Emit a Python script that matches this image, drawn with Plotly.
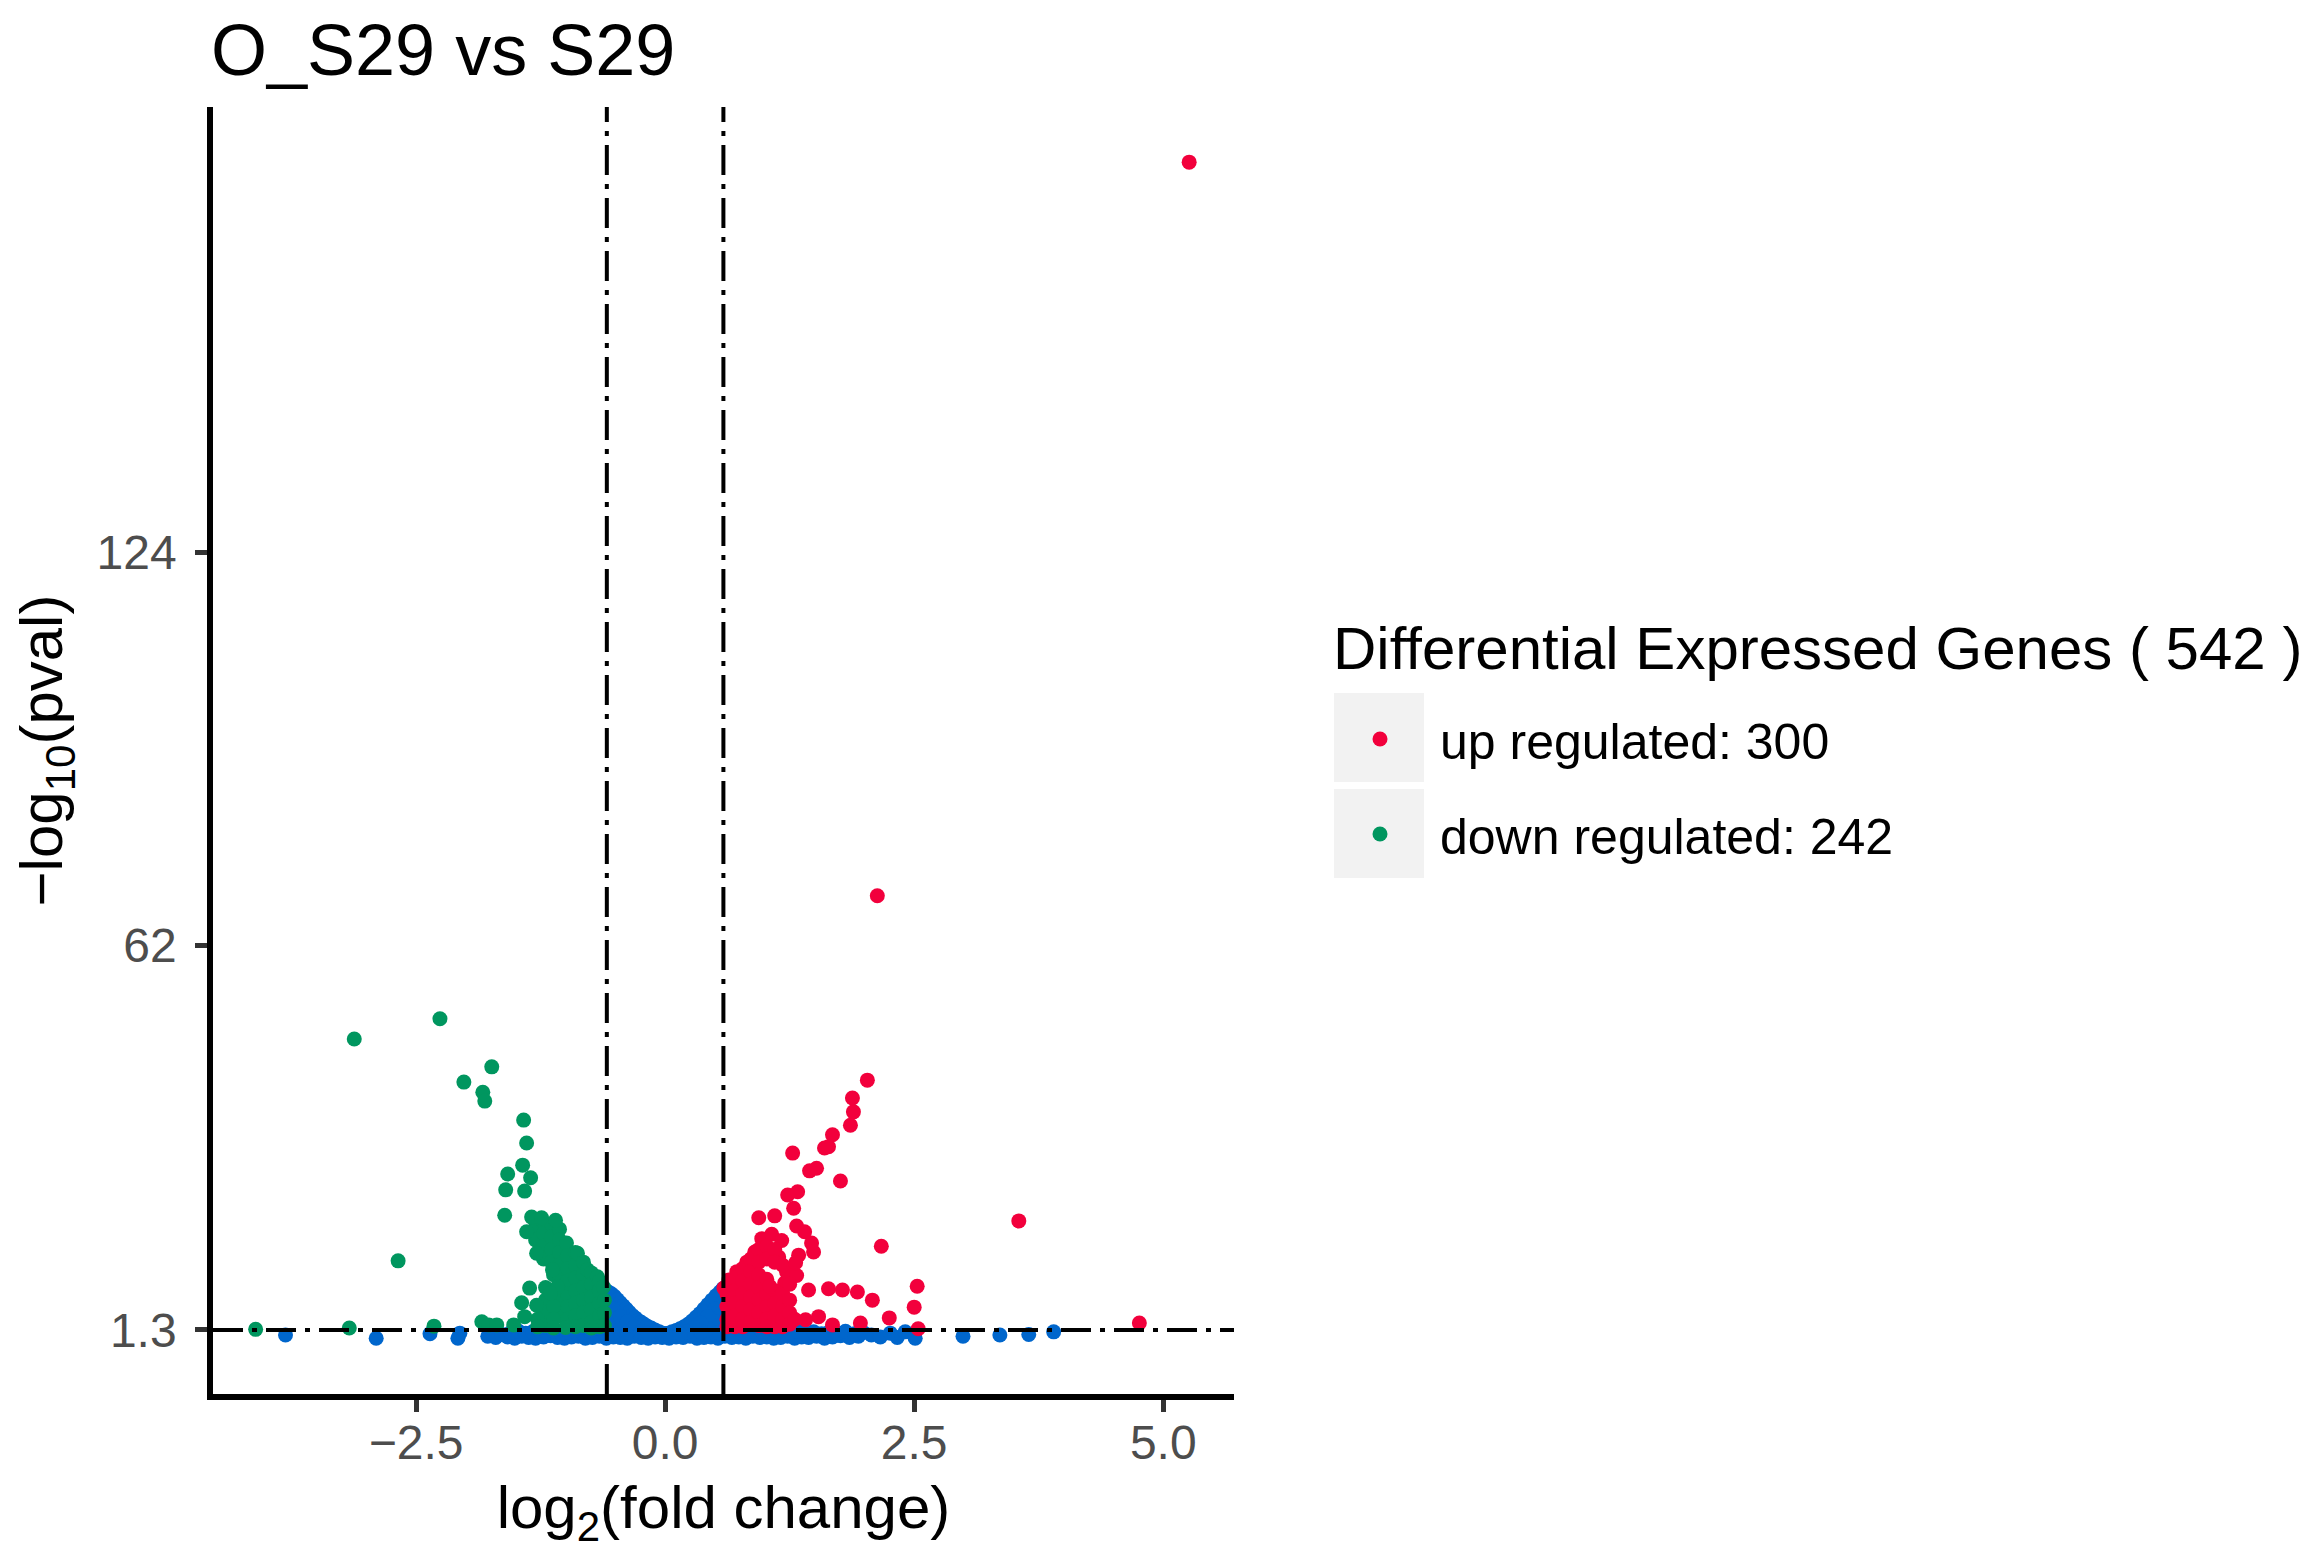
import plotly.graph_objects as go

# values: (log2 fold change, -log10 pval)

# not significant genes (blue)
blue_left_sparse = [(-3.81, 0.5), (-2.90, 0.0), (-2.36, 0.7), (-2.08, 0.0), (-2.06, 0.8),
                    (-1.78, 0.3), (-1.70, 0.1), (-1.64, 0.6)]
blue_band_low = [(-1.58, 0.2), (-1.51, 0.0), (-1.44, 0.3), (-1.37, 0.1), (-1.30, 0.0), (-1.22, 0.2),
                 (-1.15, 0.4), (-1.08, 0.1), (-1.01, 0.0), (-0.94, 0.2), (-0.87, 0.3), (-0.80, 0.0),
                 (-0.73, 0.1), (-0.66, 0.3), (-0.59, 0.0), (-0.52, 0.2), (-0.45, 0.1), (-0.38, 0.0),
                 (-0.31, 0.3), (-0.24, 0.1), (-0.17, 0.0), (-0.10, 0.2), (-0.03, 0.1), (0.04, 0.0),
                 (0.11, 0.2), (0.18, 0.1), (0.25, 0.3), (0.32, 0.0), (0.39, 0.1), (0.46, 0.2),
                 (0.53, 0.0), (0.60, 0.3), (0.67, 0.1), (0.74, 0.2), (0.81, 0.0), (0.88, 0.3),
                 (0.95, 0.1), (1.02, 0.2), (1.09, 0.0), (1.16, 0.1), (1.23, 0.3), (1.30, 0.0),
                 (1.37, 0.2), (1.44, 0.1), (1.52, 0.3), (1.60, 0.0), (1.68, 0.2), (1.76, 0.4),
                 (1.85, 0.1), (1.94, 0.3)]
blue_band_high = [(-1.55, 0.9), (-1.47, 1.1), (-1.40, 0.8), (-1.33, 1.0), (-1.26, 1.2), (-1.19, 0.9),
                  (-1.12, 1.1), (-1.04, 0.8), (-0.97, 1.0), (-0.90, 1.2), (-0.83, 0.9), (-0.76, 1.1),
                  (-0.69, 0.8), (-0.62, 1.0), (0.62, 1.1), (0.69, 0.8), (0.76, 1.0), (0.83, 1.2),
                  (0.90, 0.9), (0.97, 1.1), (1.04, 0.8), (1.11, 1.0), (1.18, 1.2), (1.25, 0.9),
                  (1.33, 1.1), (1.41, 0.8), (1.49, 1.0), (1.57, 0.7), (1.65, 1.0), (1.73, 0.8),
                  (1.81, 1.1), (1.90, 0.7), (1.99, 0.9)]
blue_v_left = [(-0.60, 7.6), (-0.57, 7.3), (-0.54, 7.0), (-0.51, 6.6), (-0.48, 6.1), (-0.45, 5.6),
               (-0.42, 5.1), (-0.39, 4.6), (-0.36, 4.1), (-0.33, 3.6), (-0.30, 3.2), (-0.27, 2.8),
               (-0.24, 2.5), (-0.21, 2.2), (-0.18, 1.9), (-0.14, 1.6), (-0.10, 1.3), (-0.06, 1.0),
               (-0.02, 0.8), (-0.59, 5.5), (-0.59, 3.5), (-0.59, 1.6), (-0.52, 4.6), (-0.52, 2.6),
               (-0.52, 0.9), (-0.45, 3.4), (-0.45, 1.5), (-0.38, 2.6), (-0.38, 1.0), (-0.31, 1.8),
               (-0.24, 1.0), (-0.17, 0.8)]
blue_v_right = [(0.03, 0.8), (0.07, 1.0), (0.11, 1.2), (0.15, 1.5), (0.19, 1.8), (0.23, 2.2),
                (0.27, 2.7), (0.31, 3.3), (0.35, 3.9), (0.39, 4.6), (0.43, 5.3), (0.47, 6.0),
                (0.51, 6.7), (0.55, 7.3), (0.58, 7.8), (0.57, 5.6), (0.57, 3.5), (0.57, 1.6),
                (0.50, 4.6), (0.50, 2.6), (0.50, 0.9), (0.43, 3.4), (0.43, 1.5), (0.36, 2.4),
                (0.36, 1.0), (0.29, 1.7), (0.22, 1.0), (0.15, 0.7)]
blue_right_sparse = [(2.07, 0.5), (2.16, 0.2), (2.26, 0.8), (2.33, 0.1), (2.41, 1.0), (2.51, 0.0),
                     (2.99, 0.3), (3.36, 0.5), (3.65, 0.6), (3.90, 1.0)]

# down regulated (green)
green_outliers = [(-4.11, 1.4), (-3.17, 1.6), (-2.32, 1.9), (-2.68, 12.2), (-3.12, 47.2),
                  (-2.26, 50.4), (-1.74, 42.8), (-2.02, 40.4), (-1.83, 38.8), (-1.81, 37.4),
                  (-1.42, 34.4), (-1.39, 30.8), (-1.43, 27.3), (-1.58, 25.9), (-1.35, 25.3),
                  (-1.60, 23.4), (-1.41, 23.2), (-1.61, 19.4), (-1.84, 2.6), (-1.77, 2.1),
                  (-1.69, 2.1), (-1.52, 2.1), (-1.41, 3.4), (-1.44, 5.6), (-1.29, 5.2),
                  (-1.36, 7.9), (-1.15, 7.1), (-1.39, 16.8), (-1.29, 13.4), (-1.34, 19.1),
                  (-1.24, 19.0), (-1.10, 18.6)]
green_cluster = [(-1.30, 17.5), (-1.30, 15.5), (-1.22, 18.3), (-1.22, 16.5), (-1.22, 14.5),
                 (-1.22, 12.5), (-1.14, 18.0), (-1.14, 16.0), (-1.14, 14.0), (-1.14, 12.0),
                 (-1.12, 10.0), (-1.06, 17.2), (-1.06, 15.5), (-1.06, 13.5), (-1.06, 11.5),
                 (-1.06, 9.5), (-1.06, 7.5), (-1.06, 5.5), (-1.06, 3.5), (-0.99, 15.0),
                 (-0.98, 13.0), (-0.98, 11.0), (-0.98, 9.0), (-0.98, 7.0), (-0.98, 5.0),
                 (-0.98, 3.0), (-0.90, 13.5), (-0.90, 11.5), (-0.90, 9.5), (-0.90, 7.5),
                 (-0.90, 5.5), (-0.90, 3.5), (-0.90, 1.8), (-0.88, 13.4), (-0.82, 12.0),
                 (-0.82, 10.0), (-0.82, 8.0), (-0.82, 6.0), (-0.82, 4.0), (-0.82, 2.0),
                 (-0.78, 10.8), (-0.74, 10.3), (-0.74, 8.5), (-0.74, 6.5), (-0.74, 4.5),
                 (-0.74, 2.5), (-0.68, 9.7), (-0.66, 9.0), (-0.66, 7.5), (-0.66, 5.5),
                 (-0.66, 3.5), (-0.66, 1.8), (-0.62, 8.1), (-0.61, 6.0), (-0.61, 4.0),
                 (-0.61, 2.0), (-1.20, 8.0), (-1.20, 6.0), (-1.20, 4.0), (-1.20, 2.0),
                 (-1.12, 7.0), (-1.12, 5.0), (-1.12, 3.0), (-1.12, 1.6), (-1.28, 3.0),
                 (-1.28, 1.8), (-1.13, 10.8), (-1.08, 8.1), (-1.00, 1.7), (-0.74, 1.6)]

# up regulated (red)
red_outliers = [(5.26, 185.5), (2.13, 69.8), (2.03, 40.7), (1.88, 37.9), (1.89, 35.7), (1.86, 33.6),
                (1.68, 32.1), (1.60, 30.0), (1.64, 30.2), (1.28, 29.2), (1.45, 26.4), (1.52, 26.8),
                (1.76, 24.8), (1.23, 22.6), (1.33, 23.1), (1.29, 20.5), (0.94, 19.0), (1.10, 19.3),
                (1.32, 17.7), (1.40, 16.8), (1.47, 15.0), (1.49, 13.6), (2.17, 14.5), (1.34, 13.1),
                (1.31, 11.9), (1.44, 7.6), (1.64, 7.8), (1.78, 7.6), (1.93, 7.3), (2.08, 6.0),
                (2.53, 8.2), (2.50, 4.9), (2.25, 3.2), (2.54, 1.5), (1.54, 3.4), (1.41, 2.9),
                (1.68, 2.1), (1.96, 2.4), (3.55, 18.5), (4.76, 2.4)]
red_cluster = [(1.22, 10.4), (1.32, 9.9), (1.20, 8.7), (0.97, 15.7), (1.07, 16.4), (1.17, 15.4),
               (1.14, 12.8), (0.90, 13.6), (0.82, 12.0), (0.72, 10.5), (0.64, 9.2), (0.59, 7.9),
               (0.62, 7.0), (0.62, 5.0), (0.62, 3.0), (0.62, 1.8), (0.70, 9.5), (0.70, 7.5),
               (0.70, 5.5), (0.70, 3.5), (0.70, 1.8), (0.78, 11.0), (0.78, 9.0), (0.78, 7.0),
               (0.78, 5.0), (0.78, 3.0), (0.78, 1.8), (0.86, 12.5), (0.86, 10.5), (0.86, 8.5),
               (0.86, 6.5), (0.86, 4.5), (0.86, 2.5), (0.94, 14.0), (0.94, 12.0), (0.94, 10.0),
               (0.94, 8.0), (0.94, 6.0), (0.94, 4.0), (0.94, 2.0), (1.02, 14.5), (1.02, 12.5),
               (1.02, 9.3), (1.02, 7.0), (1.02, 5.0), (1.02, 3.0), (1.02, 1.8), (1.10, 14.0),
               (1.10, 12.0), (1.10, 7.5), (1.10, 5.5), (1.10, 3.5), (1.10, 1.8), (1.18, 11.5),
               (1.18, 7.0), (1.18, 5.0), (1.18, 3.0), (1.18, 1.8), (1.25, 8.5), (1.25, 6.0),
               (1.25, 4.0), (1.25, 2.2), (1.05, 8.2), (1.30, 3.0)]

fc_cut = 0.585   # log2(1.5)
p_cut = 1.3      # -log10(0.05)

y_ticks = [1.3, 62, 124]
x_ticks = [-2.5, 0, 2.5, 5]
x_labels = ['\u22122.5', '0.0', '2.5', '5.0']

legend_title = 'Differential Expressed Genes ( 542 )'
red = '#F2003C'
green = '#00965F'
blue = '#0066CC'
font = 'Liberation Sans, Arial, sans-serif'
msize = 15


def unzip(*groups):
    pts = [p for g in groups for p in g]
    return [p[0] for p in pts], [p[1] for p in pts]


fig = go.Figure()

bx, by = unzip(blue_left_sparse, blue_band_low, blue_band_high, blue_v_left, blue_v_right,
               blue_right_sparse)
fig.add_trace(go.Scatter(x=bx, y=by, mode='markers', showlegend=False, name='not significant',
                         marker=dict(color=blue, size=msize, line=dict(width=0))))

rx, ry = unzip(red_cluster, red_outliers)
fig.add_trace(go.Scatter(x=rx, y=ry, mode='markers', name='up regulated: 300', legendgroup='up',
                         marker=dict(color=red, size=msize, line=dict(width=0))))

gx, gy = unzip(green_cluster, green_outliers)
fig.add_trace(go.Scatter(x=gx, y=gy, mode='markers', name='down regulated: 242', legendgroup='down',
                         marker=dict(color=green, size=msize, line=dict(width=0))))

dash = '30px,9px,5px,9px'
for v in (-fc_cut, fc_cut):
    fig.add_shape(type='line', x0=v, x1=v, y0=0, y1=1, xref='x', yref='paper',
                  line=dict(color='black', width=4, dash=dash))
fig.add_shape(type='line', x0=0, x1=1, y0=p_cut, y1=p_cut, xref='paper', yref='y',
              line=dict(color='black', width=4, dash=dash))

# grey key backgrounds like ggplot's legend keys (page px -> paper)
plot_left, plot_right, plot_top, plot_bottom = 205, 1226, 99, 1386
key_x = (1326, 1416)
key_y = ((685, 774), (781, 870))


def px_to_paper_x(v):
    return (v - plot_left) / (plot_right - plot_left)


def px_to_paper_y(v):
    return (plot_bottom - v) / (plot_bottom - plot_top)


for top, bottom in key_y:
    fig.add_shape(type='rect', xref='paper', yref='paper',
                  x0=px_to_paper_x(key_x[0]), x1=px_to_paper_x(key_x[1]),
                  y0=px_to_paper_y(bottom), y1=px_to_paper_y(top),
                  fillcolor='#F2F2F2', line=dict(width=0), layer='below')

# legend title sits further above the keys than plotly's own legend title would
fig.add_annotation(text=legend_title, xref='paper', yref='paper', x=px_to_paper_x(1323),
                   y=px_to_paper_y(640), xanchor='left', yanchor='middle', showarrow=False,
                   font=dict(size=60, color='black', family=font))

axis_common = dict(showline=True, linecolor='black', linewidth=5.5, ticks='outside', ticklen=12,
                   tickwidth=5, tickcolor='#333333', showgrid=False, zeroline=False,
                   tickfont=dict(size=48, color='#4D4D4D', family=font))

# the page body adds an 8px margin, so the figure is 8px smaller than the window
fig.update_layout(
    width=2314, height=1551,
    paper_bgcolor='white', plot_bgcolor='white',
    font=dict(family=font, color='black'),
    margin=dict(l=plot_left, r=2314 - plot_right, t=plot_top, b=1551 - plot_bottom),
    title=dict(text='O_S29 vs S29', font=dict(size=72, color='black'), xref='container',
               yref='container', x=203 / 2314, xanchor='left', y=1 - 42 / 1551, yanchor='middle'),
    xaxis=dict(range=[-4.538, 5.71], tickvals=x_ticks, ticktext=x_labels, ticklabelstandoff=-10,
               title=dict(text='log<sub>2</sub>(fold change)', font=dict(size=60), standoff=20),
               **axis_common),
    yaxis=dict(range=[-8.8, 194.2], tickvals=y_ticks, ticktext=[str(t) for t in y_ticks],
               ticklabelstandoff=9,
               title=dict(text='\u2212log<sub>10</sub>(pval)', font=dict(size=60), standoff=20),
               **axis_common),
    legend=dict(font=dict(size=50), x=px_to_paper_x(1312), xanchor='left',
                y=px_to_paper_y(692), yanchor='top',
                itemwidth=110, bgcolor='rgba(0,0,0,0)', traceorder='grouped', tracegroupgap=27),
)

fig.write_html('out.html')
